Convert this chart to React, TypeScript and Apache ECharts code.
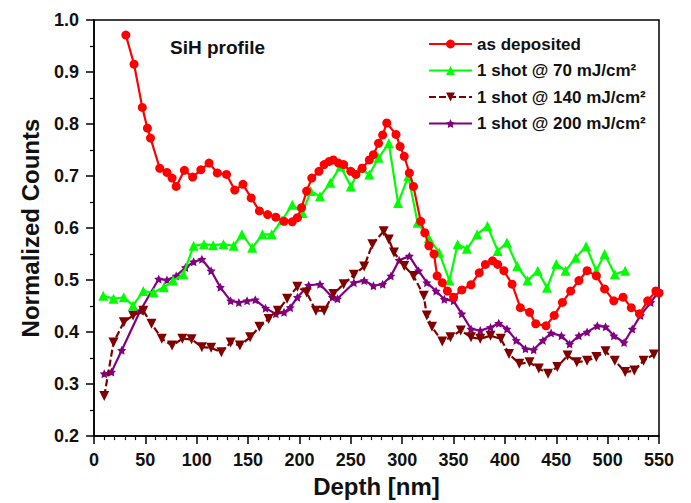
import React, { useEffect, useRef } from "react";
import * as echarts from "echarts";

const seriesNames = [
  "as deposited",
  "1 shot @ 70 mJ/cm²",
  "1 shot @ 140 mJ/cm²",
  "1 shot @ 200 mJ/cm²",
];

const asDeposited: [number, number][] = [
  [31, 0.971], [39, 0.915], [47, 0.832], [52, 0.792], [55, 0.773], [64, 0.715], [71, 0.707], [76, 0.696],
  [80, 0.68], [88, 0.711], [96, 0.698], [104, 0.712], [112, 0.725], [120, 0.706], [129, 0.703], [137, 0.673],
  [145, 0.684], [153, 0.658], [161, 0.633], [169, 0.626], [177, 0.621], [185, 0.613], [193, 0.612], [198, 0.62],
  [202, 0.639], [207, 0.671], [212, 0.696], [219, 0.709], [224, 0.722], [229, 0.728], [233, 0.731], [238, 0.725],
  [243, 0.722], [250, 0.709], [255, 0.703], [261, 0.715], [268, 0.731], [272, 0.741], [277, 0.763], [281, 0.779],
  [285, 0.802], [294, 0.78], [298, 0.757], [302, 0.738], [307, 0.706], [311, 0.68], [318, 0.613], [322, 0.591],
  [326, 0.566], [331, 0.55], [334, 0.508], [339, 0.495], [344, 0.479], [350, 0.467], [358, 0.481], [367, 0.491],
  [375, 0.514], [381, 0.53], [388, 0.537], [393, 0.53], [399, 0.518], [407, 0.492], [415, 0.447], [424, 0.438],
  [430, 0.416], [440, 0.412], [448, 0.432], [456, 0.457], [464, 0.479], [472, 0.499], [480, 0.518], [489, 0.508],
  [497, 0.483], [506, 0.46], [515, 0.467], [523, 0.447], [531, 0.435], [539, 0.46], [547, 0.479], [550, 0.475],
];

const shot70: [number, number][] = [
  [9, 0.47], [19, 0.464], [29, 0.467], [38, 0.451], [48, 0.479], [58, 0.476], [68, 0.486], [77, 0.499],
  [87, 0.511], [97, 0.566], [107, 0.569], [116, 0.567], [126, 0.569], [136, 0.566], [144, 0.588], [154, 0.562],
  [164, 0.588], [173, 0.588], [183, 0.615], [193, 0.645], [203, 0.629], [211, 0.671], [220, 0.661], [230, 0.687],
  [240, 0.719], [250, 0.68], [259, 0.715], [268, 0.703], [277, 0.735], [287, 0.763], [296, 0.648], [306, 0.7],
  [315, 0.61], [326, 0.581], [336, 0.553], [346, 0.499], [354, 0.569], [363, 0.56], [373, 0.588], [383, 0.604],
  [393, 0.556], [402, 0.572], [412, 0.527], [422, 0.499], [432, 0.518], [441, 0.485], [450, 0.531], [459, 0.518],
  [469, 0.543], [479, 0.565], [489, 0.518], [497, 0.55], [507, 0.511], [517, 0.518],
];

const shot140: [number, number][] = [
  [10, 0.277], [19, 0.38], [29, 0.419], [38, 0.432], [48, 0.441], [56, 0.416], [66, 0.387], [76, 0.374],
  [86, 0.387], [95, 0.386], [105, 0.371], [114, 0.37], [124, 0.361], [133, 0.38], [142, 0.374], [152, 0.39],
  [161, 0.41], [170, 0.425], [179, 0.441], [188, 0.464], [198, 0.487], [207, 0.476], [216, 0.441], [224, 0.441],
  [233, 0.473], [243, 0.492], [253, 0.51], [263, 0.526], [271, 0.569], [282, 0.594], [287, 0.578], [292, 0.553],
  [302, 0.527], [311, 0.508], [321, 0.47], [324, 0.432], [329, 0.41], [339, 0.382], [347, 0.39], [357, 0.403],
  [367, 0.39], [376, 0.387], [386, 0.393], [396, 0.387], [404, 0.358], [414, 0.339], [424, 0.342], [433, 0.33],
  [442, 0.32], [451, 0.333], [461, 0.355], [470, 0.342], [480, 0.345], [489, 0.352], [498, 0.363], [507, 0.345],
  [517, 0.323], [526, 0.326], [535, 0.345], [545, 0.357],
];

const shot200: [number, number][] = [
  [10, 0.32], [17, 0.323], [27, 0.365], [45, 0.441], [63, 0.502], [71, 0.5], [80, 0.508], [89, 0.524],
  [97, 0.535], [105, 0.54], [114, 0.518], [123, 0.486], [133, 0.46], [141, 0.457], [149, 0.46], [157, 0.462],
  [167, 0.446], [177, 0.435], [185, 0.438], [191, 0.447], [198, 0.467], [209, 0.49], [220, 0.492], [232, 0.467],
  [237, 0.464], [253, 0.495], [263, 0.499], [272, 0.489], [281, 0.492], [289, 0.508], [297, 0.538], [307, 0.546],
  [316, 0.518], [324, 0.495], [333, 0.479], [341, 0.463], [350, 0.46], [358, 0.435], [367, 0.406], [376, 0.403],
  [386, 0.409], [394, 0.417], [402, 0.406], [411, 0.384], [420, 0.368], [428, 0.366], [437, 0.384], [445, 0.398],
  [455, 0.393], [463, 0.377], [472, 0.393], [480, 0.4], [490, 0.412], [498, 0.41], [506, 0.393], [516, 0.38],
  [524, 0.406], [532, 0.432], [542, 0.457], [550, 0.479],
];

const seriesData = [asDeposited, shot70, shot140, shot200];
const seriesColors = ["#ff0000", "#00ff00", "#800000", "#800080"];
const seriesSymbols = [
  "circle",
  "triangle",
  "triangle",
  "path://M0,-10 L2.9,-4 L9.5,-3.1 L4.8,1.5 L5.9,8.1 L0,5 L-5.9,8.1 L-4.8,1.5 L-9.5,-3.1 L-2.9,-4 Z",
];
const symbolSizes = [9, 10, 10, 9];
const symbolRotates = [0, 0, 180, 0];
const lineTypes = ["solid", "solid", [7, 3], "solid"];

const FONT = "'Liberation Sans', Arial, sans-serif";

export default function App() {
  const ref = useRef<HTMLDivElement>(null);
  useEffect(() => {
    document.body.style.margin = "0";
    if (!ref.current) return;
    const chart = echarts.init(ref.current, null, { renderer: "svg" });
    chart.setOption({
      animation: false,
      backgroundColor: "#ffffff",
      grid: {
        left: 94,
        right: 32,
        top: 20,
        bottom: 66,
        show: true,
        borderColor: "#000",
        borderWidth: 1.5,
      },
      legend: {
        orient: "vertical",
        left: 428,
        top: 35,
        padding: 0,
        itemWidth: 43,
        itemHeight: 11,
        itemGap: 8.5,
        data: seriesNames,
        textStyle: { fontFamily: FONT, fontWeight: "bold", fontSize: 17, lineHeight: 18, color: "#111" },
      },
      graphic: [
        {
          type: "text",
          left: 170,
          top: 38,
          style: { text: "SiH profile", font: `bold 19px ${FONT}`, fill: "#111" },
        },
      ],
      xAxis: {
        type: "value",
        min: 0,
        max: 550,
        interval: 50,
        name: "Depth [nm]",
        nameLocation: "middle",
        nameGap: 37,
        nameTextStyle: { fontFamily: FONT, fontWeight: "bold", fontSize: 24, color: "#111" },
        axisLine: { lineStyle: { color: "#000", width: 1.5 } },
        axisTick: { show: true, inside: false, length: 8, lineStyle: { color: "#000", width: 1.5 } },
        minorTick: { show: true, splitNumber: 5, length: 4, lineStyle: { color: "#000", width: 1.2 } },
        axisLabel: { fontFamily: FONT, fontWeight: "bold", fontSize: 18, color: "#111", margin: 15 },
        splitLine: { show: false },
      },
      yAxis: {
        type: "value",
        min: 0.2,
        max: 1.0,
        interval: 0.1,
        name: "Normalized Counts",
        nameLocation: "middle",
        nameGap: 52,
        nameTextStyle: { fontFamily: FONT, fontWeight: "bold", fontSize: 24, color: "#111" },
        axisLine: { lineStyle: { color: "#000", width: 1.5 } },
        axisTick: { show: true, inside: false, length: 8, lineStyle: { color: "#000", width: 1.5 } },
        minorTick: { show: true, splitNumber: 2, length: 4, lineStyle: { color: "#000", width: 1.2 } },
        axisLabel: {
          fontFamily: FONT,
          fontWeight: "bold",
          fontSize: 18,
          color: "#111",
          margin: 15,
          formatter: (v: number) => v.toFixed(1),
        },
        splitLine: { show: false },
      },
      series: seriesNames.map((name, i) => ({
        name,
        type: "line",
        data: seriesData[i],
        symbol: seriesSymbols[i],
        symbolSize: symbolSizes[i],
        symbolRotate: symbolRotates[i],
        showAllSymbol: true,
        lineStyle: { color: seriesColors[i], width: 2.2, type: lineTypes[i] },
        itemStyle: { color: seriesColors[i] },
        z: 10 - i,
      })),
    });
    return () => chart.dispose();
  }, []);
  return (
    <div
      ref={ref}
      style={{ width: 691, height: 503, position: "absolute", left: 0, top: 0 }}
    />
  );
}
